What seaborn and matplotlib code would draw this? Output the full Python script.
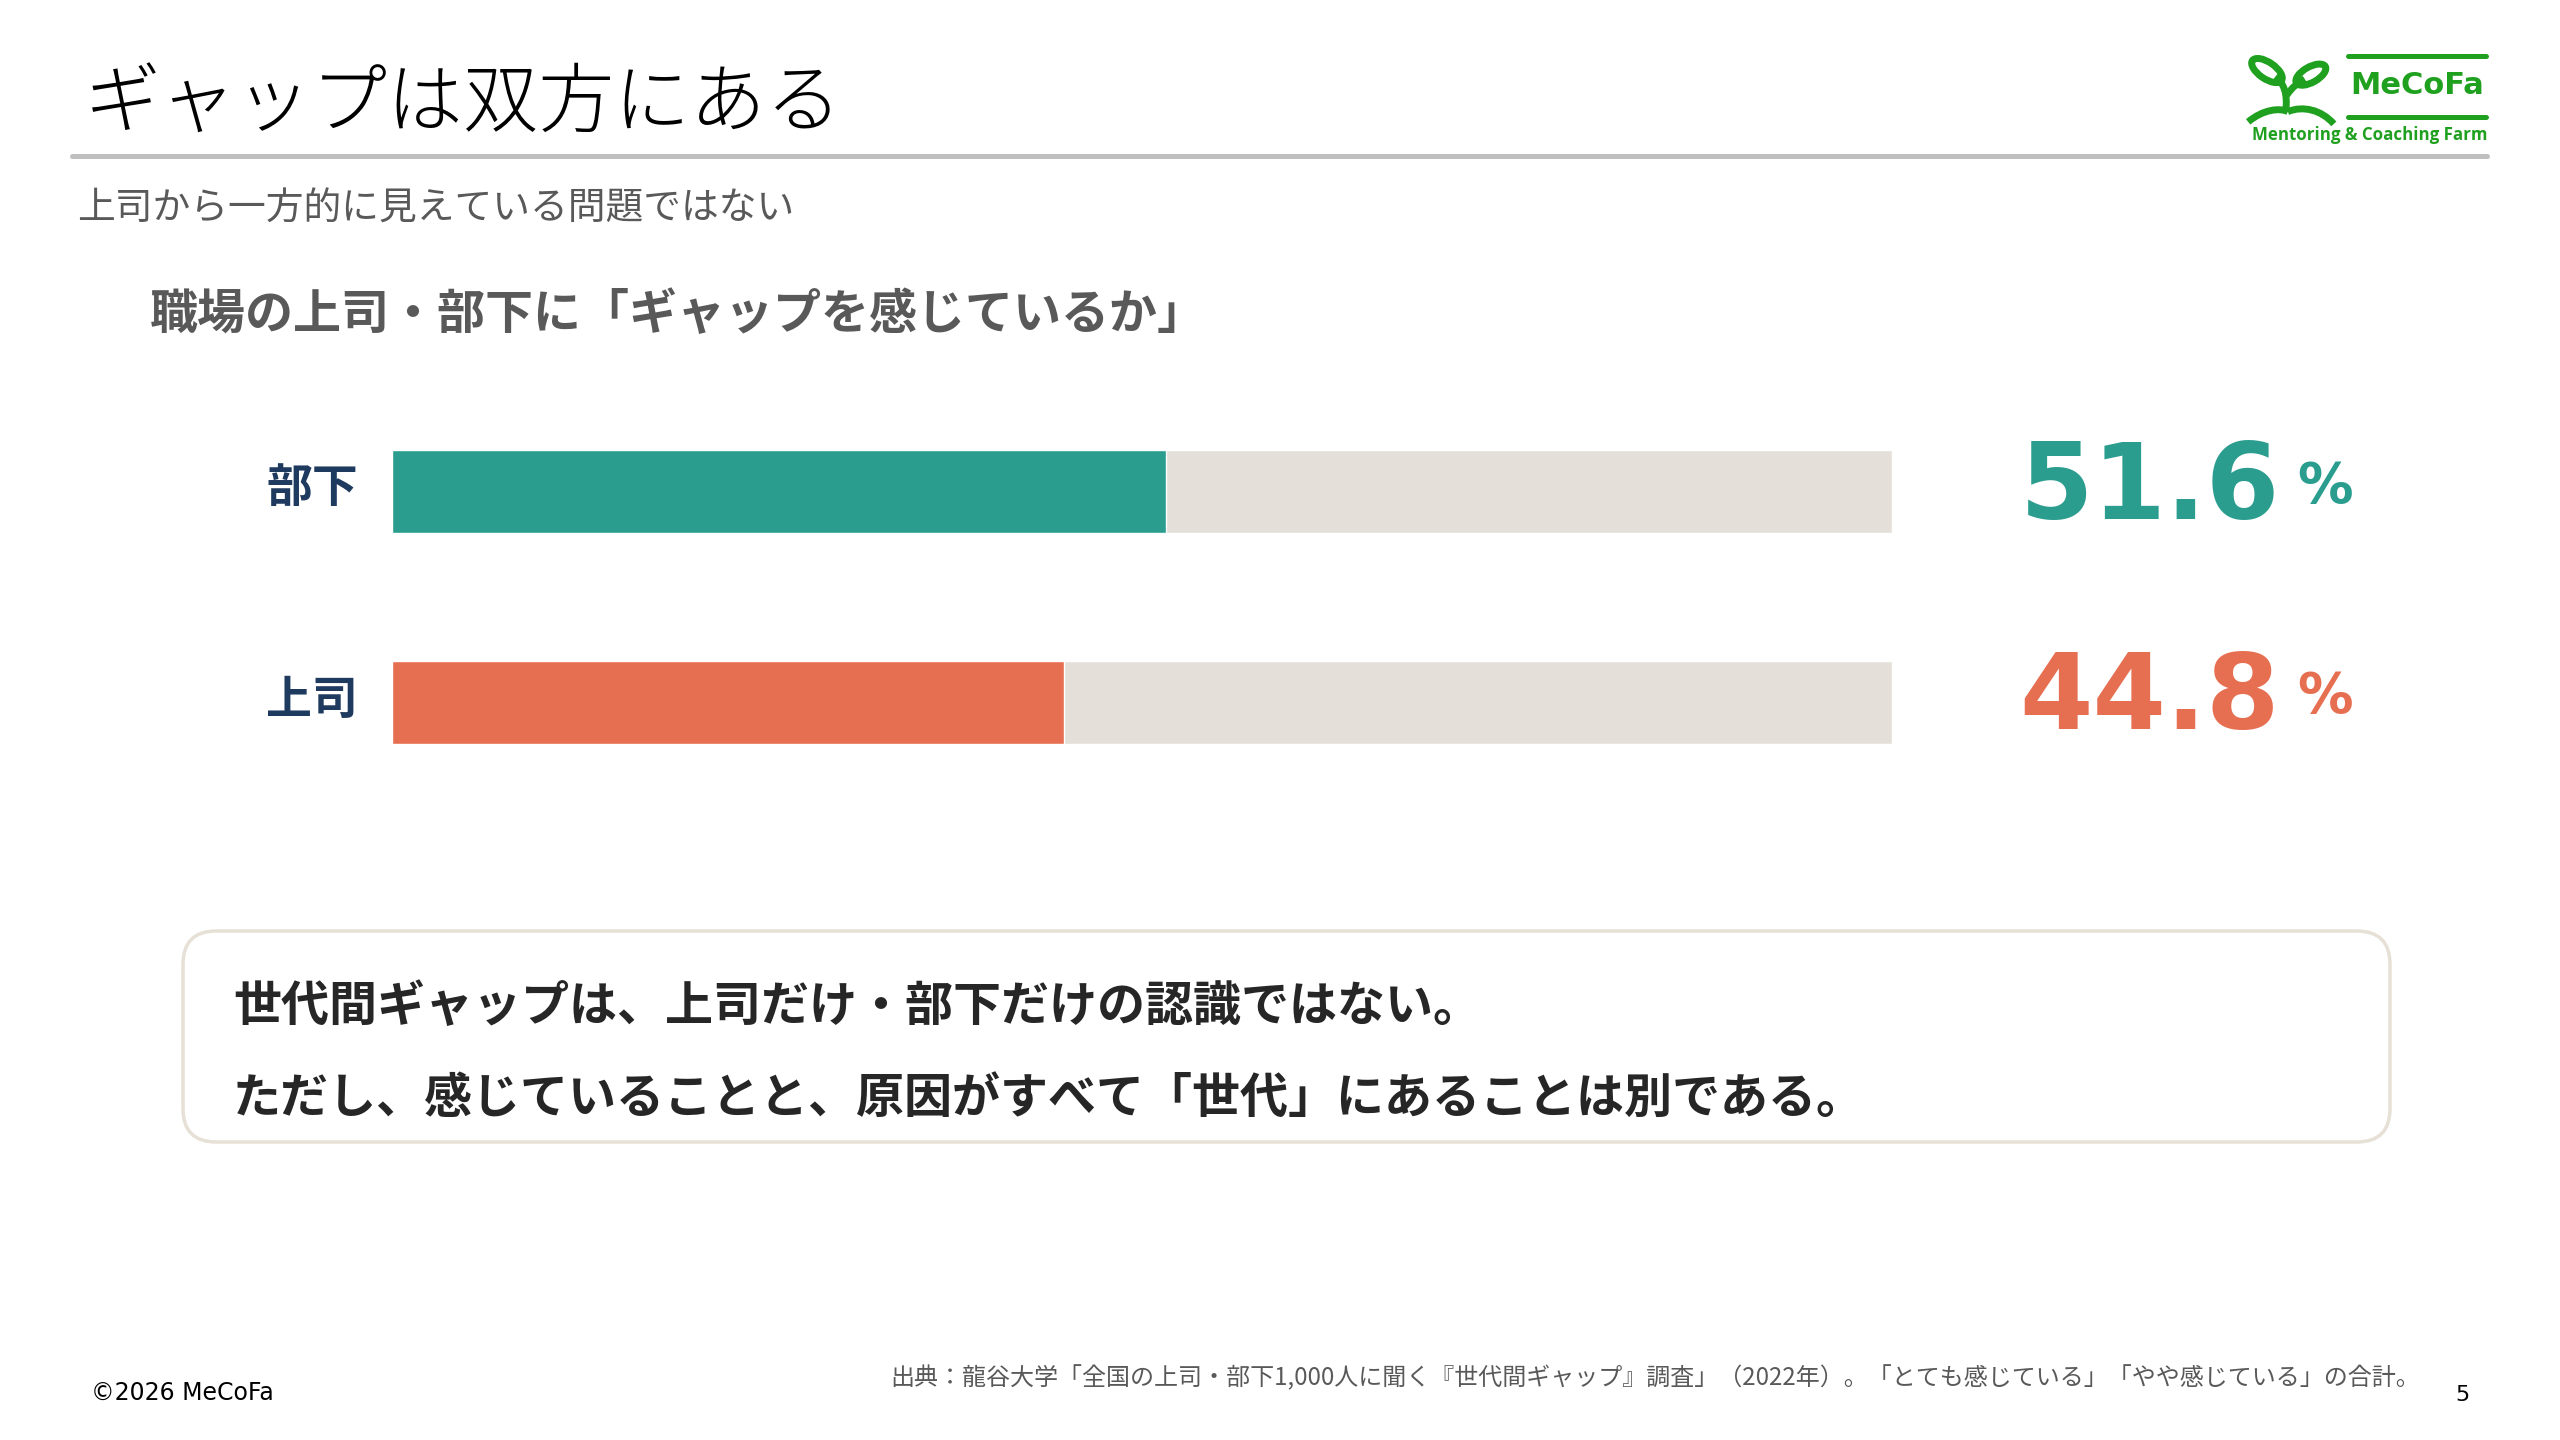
import matplotlib
matplotlib.use("Agg")
import matplotlib.pyplot as plt
import seaborn as sns
import pandas as pd
from matplotlib.patches import FancyBboxPatch, PathPatch, Ellipse
from matplotlib.path import Path
from matplotlib.lines import Line2D

# data
groups = ["部下", "上司"]
values = [51.6, 44.8]
full_scale = [100, 100]
bar_colors = ["#2A9D8F", "#E76F51"]
track_color = "#E4E0D9"

title = "ギャップは双方にある"
subtitle = "上司から一方的に見えている問題ではない"
chart_title = "職場の上司・部下に「ギャップを感じているか」"
note_lines = [
    "世代間ギャップは、上司だけ・部下だけの認識ではない。",
    "ただし、感じていることと、原因がすべて「世代」にあることは別である。",
]
source = "出典：龍谷大学「全国の上司・部下1,000人に聞く『世代間ギャップ』調査」（2022年）。「とても感じている」「やや感じている」の合計。"
copyright_text = "©2026 MeCoFa"
page_no = "5"

sns.set_theme(style="white")
plt.rcParams['font.family'] = ['Noto Sans CJK JP', 'DejaVu Sans']

W, H = 2560, 1440
fig = plt.figure(figsize=(25.6, 14.4), dpi=100)
fig.patch.set_facecolor("white")


def fx(px):
    return px / W


def fy(py):
    return 1 - py / H


# header
fig.text(fx(85), fy(127), title, fontsize=54.5, color="black", fontweight="light",
         va="baseline", ha="left")
fig.add_artist(Line2D([fx(72), fx(2487)], [fy(156), fy(156)], color="#BFBFBF", lw=3.6))
fig.text(fx(77), fy(209), subtitle, fontsize=27.2, color="#595959", va="center", ha="left")
fig.text(fx(150), fy(314), chart_title, fontsize=34.6, color="#595959", fontweight="bold",
         va="center", ha="left")

# logo
green = "#1FA01F"
fig.add_artist(Line2D([fx(2348), fx(2486)], [fy(56), fy(56)], color=green, lw=3.6))
fig.add_artist(Line2D([fx(2348), fx(2486)], [fy(117), fy(117)], color=green, lw=3.6))
fig.text(fx(2417), fy(86), "MeCoFa", fontsize=22, color=green, fontweight="bold",
         family="DejaVu Sans", ha="center", va="center")
fig.text(fx(2487), fy(135), "Mentoring & Coaching Farm", fontsize=12.2, color=green,
         fontweight="bold", family="Open Sans", ha="right", va="center")
logo_ax = fig.add_axes([fx(2244), fy(126), fx(94), (126 - 50) / H])
logo_ax.set_xlim(0, 90)
logo_ax.set_ylim(74, 0)
logo_ax.axis("off")
logo_ax.add_patch(Ellipse((22, 20), 34, 16, angle=35, fill=False, ec=green, lw=5))
logo_ax.add_patch(Ellipse((64, 24), 32, 15, angle=-30, fill=False, ec=green, lw=5))
stem = Path([(40, 60), (42, 42), (38, 32), (30, 26)],
            [Path.MOVETO, Path.CURVE4, Path.CURVE4, Path.CURVE4])
logo_ax.add_patch(PathPatch(stem, fill=False, ec=green, lw=5))
stem2 = Path([(41, 44), (46, 36), (52, 32), (58, 28)],
             [Path.MOVETO, Path.CURVE4, Path.CURVE4, Path.CURVE4])
logo_ax.add_patch(PathPatch(stem2, fill=False, ec=green, lw=5))
logo_ax.add_patch(PathPatch(Path([(4, 70), (18, 58), (34, 56), (42, 60)],
                                 [Path.MOVETO, Path.CURVE4, Path.CURVE4, Path.CURVE4]),
                            fill=False, ec=green, lw=5))
logo_ax.add_patch(PathPatch(Path([(42, 60), (56, 54), (74, 58), (86, 72)],
                                 [Path.MOVETO, Path.CURVE4, Path.CURVE4, Path.CURVE4]),
                            fill=False, ec=green, lw=5))

# bar chart
left, right = 392, 1892
c0 = 491.5
gap = 211
ax_top = c0 - gap / 2
ax_bottom = ax_top + 2 * gap
ax = fig.add_axes([fx(left), fy(ax_bottom), fx(right - left), (ax_bottom - ax_top) / H])

df = pd.DataFrame({"group": groups, "value": values, "full": full_scale})
bw = 82.5 / gap
sns.barplot(data=df, y="group", x="full", color=track_color, width=bw, ax=ax,
            orient="h", saturation=1)
sns.barplot(data=df, y="group", x="value", hue="group", palette=bar_colors, width=bw,
            ax=ax, orient="h", saturation=1, legend=False)
ax.set_xlim(0, 100)
ax.set_ylim(1.5, -0.5)
ax.set_xlabel("")
ax.set_ylabel("")
ax.set_xticks([])
ax.set_yticks(range(len(groups)))
ax.set_yticklabels([])
for s in ax.spines.values():
    s.set_visible(False)
ax.tick_params(axis="y", length=0)

trans = matplotlib.transforms.blended_transform_factory(ax.transAxes, ax.transData)
lab_x = (358 - left) / (right - left)
num_x = (2280 - left) / (right - left)
pct_x = (2297 - left) / (right - left)
for i, (g, v, col) in enumerate(zip(groups, values, bar_colors)):
    ax.text(lab_x, i - 2 / gap, g, transform=trans, fontsize=33, fontweight="bold",
            color="#1F3A5F", ha="right", va="center")
    ax.text(num_x, i + 27 / gap, f"{v:.1f}", transform=trans, fontsize=76,
            fontweight="bold", family="DejaVu Sans", color=col, ha="right", va="baseline")
    ax.text(pct_x, i + 10 / gap, "%", transform=trans, fontsize=40,
            fontweight="bold", family="DejaVu Sans", color=col, ha="left", va="baseline")

# callout box
bx0, by0, bx1, by1 = 183, 931, 2390, 1142
box = FancyBboxPatch((fx(bx0), fy(by1)), fx(bx1 - bx0), (by1 - by0) / H,
                     boxstyle="round,pad=0,rounding_size=0.013",
                     transform=fig.transFigure, fc="white", ec="#E6E0D6", lw=2.5,
                     mutation_aspect=W / H)
fig.add_artist(box)
fig.text(fx(233), fy(1006), note_lines[0], fontsize=34.6, fontweight="bold",
         color="#262626", va="center", ha="left")
fig.text(fx(233), fy(1098), note_lines[1], fontsize=34.6, fontweight="bold",
         color="#262626", va="center", ha="left")

# footer
fig.text(fx(91), fy(1393), copyright_text, fontsize=17, family="DejaVu Sans",
         color="black", va="center", ha="left")
fig.text(fx(2420), fy(1378), source, fontsize=17.3, color="#595959",
         va="center", ha="right")
fig.text(fx(2462), fy(1395), page_no, fontsize=16, family="DejaVu Sans",
         color="black", va="center", ha="center")

fig.savefig("out.png", dpi=100, facecolor="white")
